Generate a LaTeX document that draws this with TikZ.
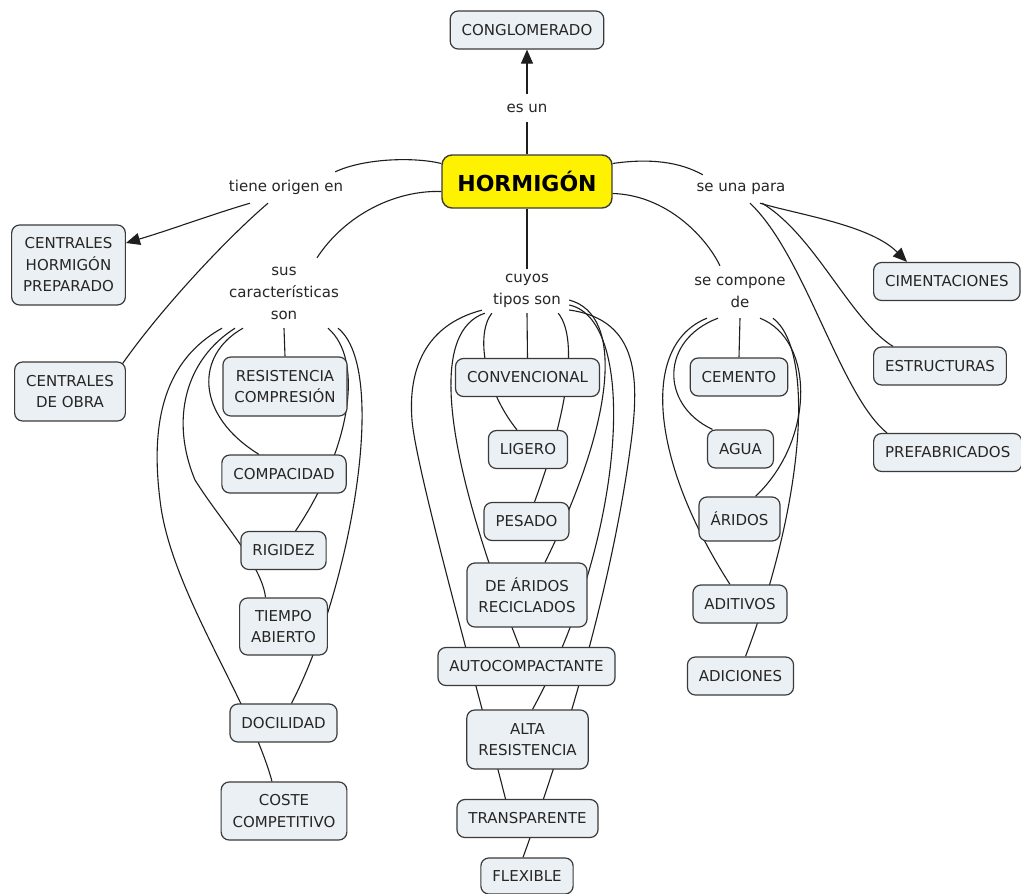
\documentclass[tikz,border=0pt]{standalone}
\usepackage{fontspec}
\setmainfont{DejaVu Sans}
\usetikzlibrary{arrows.meta,backgrounds}
\definecolor{conceptfill}{HTML}{EAF0F3}
\definecolor{conceptline}{HTML}{3A3A3A}
\definecolor{linkline}{HTML}{1E1E1E}
\definecolor{textgray}{HTML}{262626}
\begin{document}
\begin{tikzpicture}[x=1pt,y=-1pt,
  concept/.style={draw=conceptline, line width=1.2pt, fill=conceptfill, rounded corners=8pt, align=center, inner xsep=11.5pt, inner ysep=2pt, minimum height=38pt, text=textgray, font=\fontsize{15}{21.5}\selectfont},
  phrase/.style={inner sep=0pt, align=center, text=textgray, font=\fontsize{15}{22}\selectfont},
  link/.style={draw=linkline, line width=1.1pt},
  linkarrow/.style={link, -{Triangle[length=14pt,width=12pt]}}]
\useasboundingbox (0,0) rectangle (1021,894);

\node[concept, fill=yellow, line width=1.4pt, rounded corners=10pt, text=black, font=\fontsize{22}{26}\selectfont\bfseries, minimum width=170pt, minimum height=53pt] (horm) at (527,181.5) {HORMIGÓN};
\node[concept] (congl) at (527,30) {CONGLOMERADO};
\node[phrase, minimum width=50pt, minimum height=28pt] (esun) at (527,108) {es un};
\node[phrase, minimum width=120pt, minimum height=31pt] (tiene) at (286,187.5) {tiene origen en};
\node[phrase, minimum width=100pt, minimum height=28pt] (una) at (741,189) {se una para};
\node[phrase, minimum width=128pt, minimum height=70pt] (sus) at (284,293) {sus\\características\\son};
\node[phrase, minimum width=84pt, minimum height=44pt] (cuyos) at (527,291) {cuyos\\tipos son};
\node[phrase, minimum width=100pt, minimum height=52pt] (comp) at (740,292) {se compone\\de};

\node[concept, minimum height=80pt] (chp) at (68.5,265) {CENTRALES\\HORMIGÓN\\PREPARADO};
\node[concept, minimum height=59pt] (cdo) at (70,391.5) {CENTRALES\\DE OBRA};

\node[concept, anchor=west] (cimen) at (873,281.5) {CIMENTACIONES};
\node[concept, anchor=west] (estru) at (873,366) {ESTRUCTURAS};
\node[concept, anchor=west] (prefa) at (873,452.5) {PREFABRICADOS};

\node[concept, minimum height=59pt] (resis) at (285,386.5) {RESISTENCIA\\COMPRESIÓN};
\node[concept] (compa) at (284,474) {COMPACIDAD};
\node[concept] (rigid) at (283.5,550.5) {RIGIDEZ};
\node[concept, minimum height=57pt] (tiemp) at (283.5,626.5) {TIEMPO\\ABIERTO};
\node[concept] (docil) at (283.5,723) {DOCILIDAD};
\node[concept, minimum height=58pt] (coste) at (284,811) {COSTE\\COMPETITIVO};

\node[concept] (conve) at (527.5,377.5) {CONVENCIONAL};
\node[concept] (liger) at (528,449.5) {LIGERO};
\node[concept] (pesad) at (526.5,521.5) {PESADO};
\node[concept, minimum height=64pt] (arido) at (527,595) {DE ÁRIDOS\\RECICLADOS};
\node[concept] (autoc) at (526.5,666.5) {AUTOCOMPACTANTE};
\node[concept, minimum height=59pt] (altar) at (527.5,739.5) {ALTA\\RESISTENCIA};
\node[concept] (trans) at (527.5,818.5) {TRANSPARENTE};
\node[concept, minimum height=36pt] (flexi) at (527,876) {FLEXIBLE};

\node[concept] (cemen) at (739,377) {CEMENTO};
\node[concept] (agua) at (740.5,449) {AGUA};
\node[concept, minimum height=44pt] (arid) at (739.5,519) {ÁRIDOS};
\node[concept] (aditi) at (740,604) {ADITIVOS};
\node[concept] (adici) at (740.5,676) {ADICIONES};

\begin{scope}[on background layer]
\fill[white] (0,0) rectangle (1021,894);
% hormigon
\draw[link] (horm.north) -- (esun.south);
\draw[linkarrow] (esun.north) -- (congl.south);
\draw[link] ([yshift=18pt]horm.west) .. controls (415,157) and (365,158) .. ([xshift=-11pt]tiene.north east);
\draw[link] ([yshift=-10pt]horm.west) .. controls (395,190) and (345,215) .. ([xshift=33pt]sus.north);
\draw[link] (horm.south) -- (cuyos.north);
\draw[link] ([yshift=18pt]horm.east) .. controls (650,158) and (680,162) .. ([xshift=12pt]una.north west);
\draw[link] ([yshift=-12pt]horm.east) .. controls (665,195) and (705,235) .. ([xshift=-20pt]comp.north);
% tiene origen en
\draw[linkarrow] ([xshift=-36pt]tiene.south) .. controls (210,215) and (170,230) .. ([yshift=22pt]chp.east);
\draw[link] ([xshift=-18pt]tiene.south) .. controls (225,240) and (160,310) .. ([xshift=-4pt,yshift=-3pt]cdo.north east);
% se una para
\draw[linkarrow] ([xshift=19pt]una.south) .. controls (800,215) and (870,225) .. ([xshift=34pt]cimen.north west);
\draw[link] ([xshift=21pt]una.south) .. controls (815,235) and (850,320) .. ([xshift=20pt]estru.north west);
\draw[link] ([xshift=9pt]una.south) .. controls (805,255) and (840,395) .. ([xshift=14pt]prefa.north west);
% sus caracteristicas son
\draw[link] (sus.south) -- (resis.north);
\draw[link] ([xshift=-41pt]sus.south) .. controls (195,355) and (195,415) .. ([xshift=-25pt]compa.north);
\draw[link] ([xshift=44pt]sus.south) .. controls (365,360) and (350,450) .. ([xshift=12pt]rigid.north);
\draw[link] ([xshift=-49pt]sus.south) .. controls (185,360) and (170,420) .. (195,480) .. controls (220,520) and (262,565) .. ([xshift=-18pt]tiemp.north);
\draw[link] ([xshift=54pt]sus.south) .. controls (390,370) and (350,590) .. ([xshift=8pt]docil.north);
\draw[link] ([xshift=-62pt]sus.south) .. controls (165,360) and (150,420) .. (160,500) .. controls (170,590) and (250,700) .. ([xshift=-12pt]coste.north);
% cuyos tipos son
\draw[link] (cuyos.south) -- (conve.north);
\draw[link] ([xshift=7pt]cuyos.south west) .. controls (475,335) and (485,390) .. ([xshift=-11pt]liger.north);
\draw[link] ([xshift=-11pt]cuyos.south east) .. controls (580,340) and (565,420) .. ([xshift=8pt]pesad.north);
\draw[link] ([yshift=-9pt]cuyos.east) .. controls (625,315) and (615,420) .. ([xshift=18pt]arido.north);
\draw[link] (cuyos.south west) .. controls (435,330) and (435,430) .. ([xshift=-7pt]autoc.north);
\draw[link] ([yshift=-14pt]cuyos.east) .. controls (640,320) and (625,540) .. ([xshift=5pt]altar.north);
\draw[link] ([xshift=-3pt,yshift=3pt]cuyos.south west) .. controls (425,325) and (408,370) .. (412,420) .. controls (416,470) and (478,690) .. ([xshift=-22pt]trans.north);
\draw[link] ([yshift=-19pt]cuyos.east) .. controls (640,320) and (640,380) .. (630,450) .. controls (615,560) and (580,700) .. ([xshift=-4pt]flexi.north);
% se compone de
\draw[link] (comp.south) -- (cemen.north);
\draw[link] ([xshift=-22pt]comp.south) .. controls (660,340) and (660,405) .. ([xshift=-28pt]agua.north);
\draw[link] ([xshift=20pt]comp.south) .. controls (815,340) and (815,440) .. ([xshift=16pt]arid.north);
\draw[link] ([xshift=-33pt]comp.south) .. controls (640,345) and (650,460) .. ([xshift=-10pt]aditi.north);
\draw[link] ([xshift=33pt]comp.south) .. controls (815,350) and (805,500) .. ([xshift=5pt]adici.north);
\end{scope}
\end{tikzpicture}
\end{document}
